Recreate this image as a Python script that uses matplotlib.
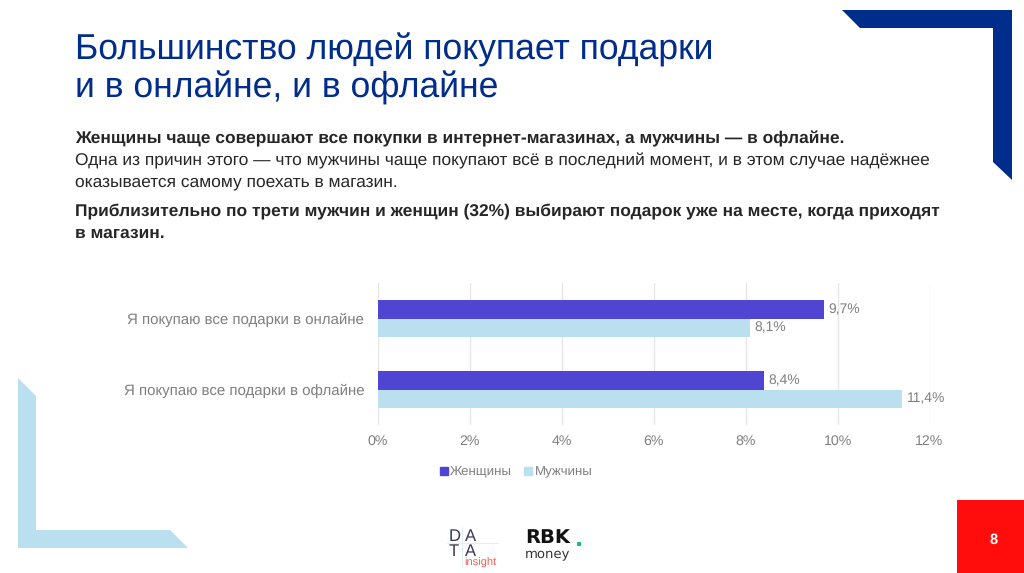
import matplotlib
matplotlib.use('Agg')
import matplotlib.pyplot as plt
from matplotlib.patches import Polygon, Rectangle

plt.rcParams['font.family'] = ['Liberation Sans', 'DejaVu Sans']
plt.rcParams['text.hinting'] = 'no_hinting'

categories = ['Я покупаю все подарки в онлайне', 'Я покупаю все подарки в офлайне']
women = [9.7, 8.4]
men = [8.1, 11.4]
women_labels = ['9,7%', '8,4%']
men_labels = ['8,1%', '11,4%']
ticks = [0, 2, 4, 6, 8, 10, 12]
series_names = ['Женщины', 'Мужчины']

W, H = 1024, 573
DARK = '#002D8C'
LIGHT = '#BAE0EF'
PURPLE = '#4F45D2'
GRAY = '#7F7F7F'
TXT = '#262626'

fig = plt.figure(figsize=(W / 100, H / 100), dpi=100)

# background layer in pixel coords, y going down
bg = fig.add_axes([0, 0, 1, 1])
bg.set_xlim(0, W)
bg.set_ylim(H, 0)
bg.axis('off')

bg.add_patch(Polygon([(842, 10), (1012, 10), (1012, 180), (993, 162), (993, 28), (860, 28)],
                     color=DARK, lw=0))
bg.add_patch(Polygon([(18, 378), (36, 396), (36, 530), (170, 530), (188, 548), (18, 548)],
                     color=LIGHT, lw=0))
bg.add_patch(Rectangle((957, 500), 67, 73, color='#FF0D0D', lw=0))
bg.text(994, 540, '8', color='white', fontsize=10.5, fontweight='bold', ha='center', va='center')

bg.text(75, 50, 'Большинство людей покупает подарки', color=DARK, fontsize=25.6, va='center')
bg.text(75, 88, 'и в онлайне, и в офлайне', color=DARK, fontsize=25.6, va='center')

bg.text(75, 139, 'Женщины чаще совершают все покупки в интернет-магазинах, а мужчины — в офлайне.',
        color=TXT, fontsize=12.48, fontweight='bold', va='center')
bg.text(75, 161, 'Одна из причин этого — что мужчины чаще покупают всё в последний момент, и в этом случае надёжнее',
        color=TXT, fontsize=12.52, va='center')
bg.text(75, 182, 'оказывается самому поехать в магазин.', color=TXT, fontsize=12.52, va='center')
bg.text(75, 212, 'Приблизительно по трети мужчин и женщин (32%) выбирают подарок уже на месте, когда приходят',
        color=TXT, fontsize=12.47, fontweight='bold', va='center')
bg.text(75, 233, 'в магазин.', color=TXT, fontsize=12.47, fontweight='bold', va='center')

# logos, roughly
bg.plot([447, 498], [543, 543], color='#E4EEF0', lw=0.8)
bg.plot([462, 462], [527, 566], color='#E4EEF0', lw=0.8)
for x, y, s in [(449, 541, 'D'), (465, 541, 'A'), (449, 556, 'T'), (465, 556, 'A')]:
    bg.text(x, y, s, color='#3A3558', fontsize=12, va='baseline')
bg.text(464, 563, 'insight', color='#F0605A', fontsize=8, va='center')
bg.text(525, 538, 'RBK', color='#111111', fontsize=14, fontweight='bold', va='center',
        family='DejaVu Sans')
bg.text(525, 554, 'money', color='#333333', fontsize=9.5, va='center', family='DejaVu Sans')
bg.add_patch(Rectangle((577, 542), 4, 4, color='#1FB58F', lw=0))

# chart
ax = fig.add_axes([378 / W, 1 - 425 / H, (929.5 - 378) / W, 142 / H])
ax.patch.set_alpha(0)
bar_h = 0.262
ypos = list(range(len(categories)))
ax.barh([y - bar_h / 2 for y in ypos], women, height=bar_h, color=PURPLE, zorder=3)
ax.barh([y + bar_h / 2 for y in ypos], men, height=bar_h, color=LIGHT, zorder=3)

for y, v, s in zip(ypos, women, women_labels):
    ax.text(v + 0.1, y - bar_h / 2, s, color=GRAY, fontsize=10, va='center')
for y, v, s in zip(ypos, men, men_labels):
    ax.text(v + 0.1, y + bar_h / 2, s, color=GRAY, fontsize=10, va='center')

ax.set_xlim(0, 12)
ax.set_ylim(1.5, -0.5)
ax.set_xticks(ticks)
ax.set_xticklabels([f'{t}%' for t in ticks])
ax.set_yticks(ypos)
ax.set_yticklabels(categories)
ax.tick_params(axis='both', length=0, labelcolor=GRAY)
ax.tick_params(axis='x', pad=7, labelsize=10.2)
ax.tick_params(axis='y', pad=10, labelsize=10.85)
ax.grid(axis='x', color='#E6E6E6', lw=1, zorder=0)
for s in ax.spines.values():
    s.set_visible(False)

handles = [Rectangle((0, 0), 1, 1, color=PURPLE), Rectangle((0, 0), 1, 1, color=LIGHT)]
fig.legend(handles, series_names, loc='center', bbox_to_anchor=(516 / W, 1 - 472 / H), ncol=2,
           frameon=False, fontsize=9.5, labelcolor=GRAY, handlelength=0.6, handleheight=0.6,
           handletextpad=0.2, columnspacing=0.9)

fig.savefig('out.png', dpi=100)
